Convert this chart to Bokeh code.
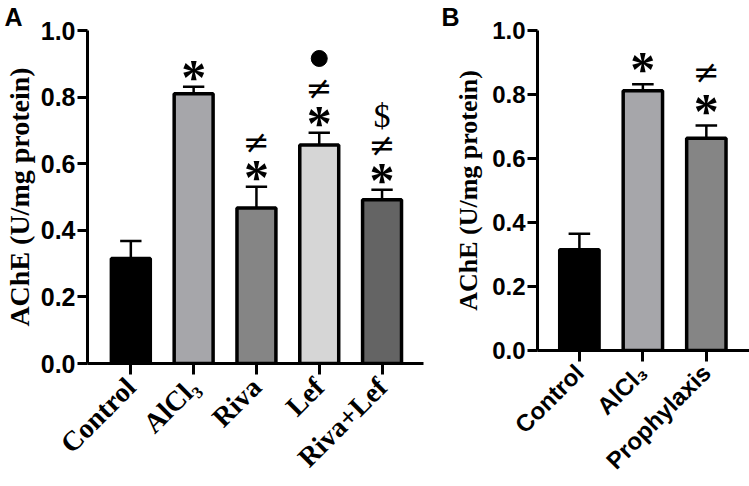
import math
from bokeh.plotting import figure
from bokeh.layouts import row, column
from bokeh.models import Range1d, ColumnDataSource, FixedTicker
from bokeh.core.properties import value
from bokeh.embed import file_html
from bokeh.resources import INLINE

# ---------------- data ----------------
cats_a = ["Control", "AlCl₃", "Riva", "Lef", "Riva+Lef"]
mean_a = [0.315, 0.810, 0.467, 0.656, 0.492]
err_a = [0.053, 0.021, 0.064, 0.037, 0.030]
colors_a = ["#000000", "#a6a6aa", "#858585", "#d6d6d6", "#646464"]
marks_a = [[], ["*"], ["*", "≠"], ["*", "≠", "●"], ["*", "≠", "$"]]

cats_b = ["Control", "AlCl₃", "Prophylaxis"]
mean_b = [0.315, 0.812, 0.663]
err_b = [0.050, 0.020, 0.040]
colors_b = ["#000000", "#a6a6aa", "#858585"]
marks_b = [[], ["*"], ["*", "≠"]]

y_ticks = [0.0, 0.2, 0.4, 0.6, 0.8, 1.0]
y_label = "AChE (U/mg protein)"

SANS = "Liberation Sans"
SERIF = "Liberation Serif"


def make_panel(cats, means, errs, colors, marks, width, height, b_left, b_right, b_top,
               b_bottom, xlo, xhi, cat_font, cat_size, cat_standoff, tick_size,
               ylab_size, ylab_standoff, letter, mark_gap, mark_step):
    p = figure(width=width, height=height, output_backend="svg", toolbar_location=None,
               x_range=Range1d(xlo, xhi), y_range=Range1d(0, 1.0),
               min_border_left=b_left, min_border_right=b_right,
               min_border_top=b_top, min_border_bottom=b_bottom,
               background_fill_color="white", border_fill_color="white",
               title=letter)
    p.title.text_font = SANS
    p.title.text_font_style = "bold"
    p.title.text_font_size = "25px"
    p.title.text_color = "black"
    p.title.align = "left"
    p.title.offset = -(b_left - 1)
    p.title.standoff = 0
    p.outline_line_color = None
    p.grid.visible = False
    idx = list(range(len(cats)))
    tops = [m + e for m, e in zip(means, errs)]
    src = ColumnDataSource(dict(x=idx, top=means, err_top=tops, color=colors,
                                cl=[i - 0.17 for i in idx], cr=[i + 0.17 for i in idx]))
    # error bars (upper only)
    p.segment(x0="x", y0="top", x1="x", y1="err_top", source=src, line_color="black", line_width=2.5)
    p.segment(x0="cl", y0="err_top", x1="cr", y1="err_top", source=src, line_color="black", line_width=2.5)
    p.vbar(x="x", top="top", width=0.62, bottom=0, source=src, fill_color="color",
           line_color="black", line_width=3.5)

    # significance marks
    groups = {"*": ([], []), "≠": ([], []), "$": ([], []), "●": ([], [])}
    for i, ms in enumerate(marks):
        for k, m in enumerate(ms):
            groups[m][0].append(i)
            groups[m][1].append(tops[i] + mark_gap + mark_step * k)
    sx, sy = groups["*"]
    if sx:
        p.text(x=sx, y=sy, text=["*"] * len(sx), text_font=value(SERIF),
               text_font_style="bold", text_font_size="50px", text_align="center",
               text_baseline="middle", y_offset=6, text_color="black")
    nx, ny = groups["≠"]
    if nx:
        p.text(x=nx, y=ny, text=["≠"] * len(nx), text_font=value("DejaVu Sans"),
               text_font_size="32px", text_align="center", text_baseline="middle",
               text_color="black")
    dx_, dy_ = groups["$"]
    if dx_:
        p.text(x=dx_, y=dy_, text=["$"] * len(dx_), text_font=value(SERIF),
               text_font_size="34px", text_align="center", text_baseline="middle",
               text_color="#000000")
    cx, cy = groups["●"]
    if cx:
        p.scatter(x=cx, y=cy, marker="circle", size=16, fill_color="black",
                  line_color="black")

    # x axis
    p.xaxis.ticker = FixedTicker(ticks=idx)
    p.xaxis.major_label_overrides = {i: c for i, c in enumerate(cats)}
    p.xaxis.major_label_orientation = math.pi / 4
    p.xaxis.major_label_text_font = cat_font
    p.xaxis.major_label_text_font_style = "bold"
    p.xaxis.major_label_text_font_size = cat_size
    p.xaxis.major_label_text_color = "black"
    p.xaxis.major_label_standoff = cat_standoff
    p.xaxis.minor_tick_line_color = None
    p.xaxis.major_tick_in = 0
    p.xaxis.major_tick_out = 11

    # y axis
    p.yaxis.ticker = FixedTicker(ticks=y_ticks)
    p.yaxis.major_label_overrides = {t: f"{t:.1f}" for t in y_ticks}
    p.yaxis.major_label_text_font = SANS
    p.yaxis.major_label_text_font_style = "bold"
    p.yaxis.major_label_text_font_size = tick_size
    p.yaxis.major_label_text_color = "black"
    p.yaxis.major_label_standoff = 2
    p.yaxis.minor_tick_line_color = None
    p.yaxis.major_tick_in = 0
    p.yaxis.major_tick_out = 10
    p.yaxis.axis_label = y_label
    p.yaxis.axis_label_text_font = SERIF
    p.yaxis.axis_label_text_font_style = "bold"
    p.yaxis.axis_label_text_font_size = ylab_size
    p.yaxis.axis_label_text_color = "black"
    p.yaxis.axis_label_standoff = ylab_standoff

    for ax in (p.xaxis, p.yaxis):
        ax.axis_line_width = 3
        ax.axis_line_color = "black"
        ax.major_tick_line_width = 3
        ax.major_tick_line_color = "black"
    return p


pa = make_panel(cats_a, mean_a, err_a, colors_a, marks_a, 440, 486, 84, 17, 26, 121,
                -0.69, 4.66, SERIF, "28px", 8, "25px", "28px", 3, "A", 0.047, 0.088)
pb = make_panel(cats_b, mean_b, err_b, colors_b, marks_b, 309, 486, 97, 0, 24, 133,
                -0.66, 2.68, SANS, "24px", 7, "24px", "26px", 6, "B", 0.065, 0.102)

layout = row(column(pa), column(pb))
open("out.html", "w").write(file_html(layout, INLINE))
